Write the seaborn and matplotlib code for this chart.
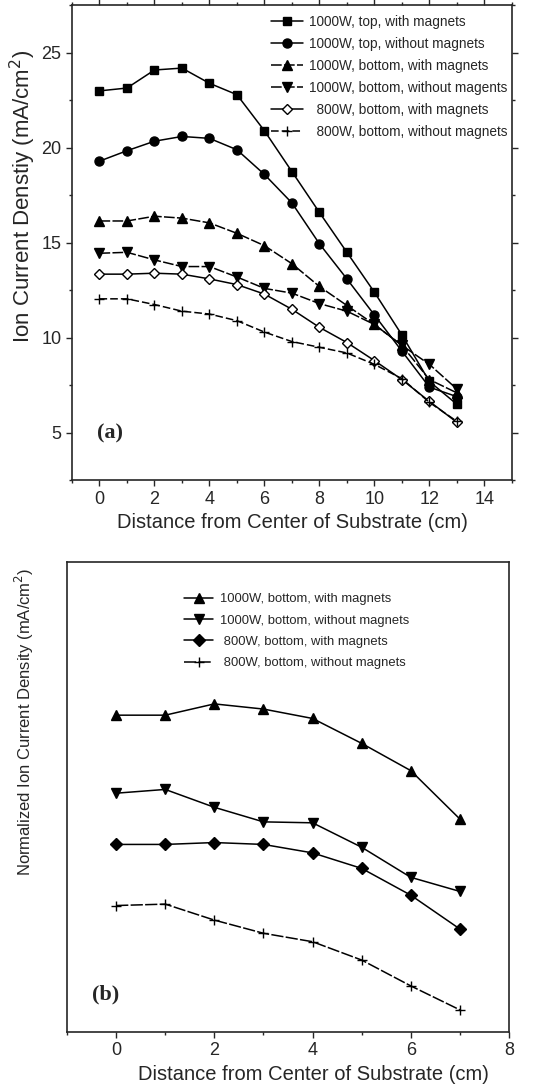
import matplotlib
matplotlib.use("Agg")
import matplotlib.pyplot as plt
import seaborn as sns
import pandas as pd
from matplotlib.ticker import MultipleLocator

# panel (a) data
distA = [0, 1, 2, 3, 4, 5, 6, 7, 8, 9, 10, 11, 12, 13]
topMag = [23.0, 23.15, 24.1, 24.2, 23.4, 22.8, 20.9, 18.75, 16.6, 14.5, 12.4, 10.15, 7.7, 6.5]
topNoMag = [19.3, 19.85, 20.35, 20.6, 20.5, 19.9, 18.6, 17.1, 14.95, 13.1, 11.2, 9.3, 7.4, 6.9]
botMag = [16.15, 16.15, 16.4, 16.3, 16.05, 15.5, 14.85, 13.9, 12.7, 11.7, 10.7, 9.6, 7.8, 7.1]
botNoMag = [14.45, 14.5, 14.1, 13.75, 13.75, 13.2, 12.6, 12.35, 11.8, 11.4, 10.7, 9.6, 8.6, 7.3]
w800Mag = [13.35, 13.35, 13.4, 13.35, 13.1, 12.8, 12.3, 11.5, 10.55, 9.75, 8.8, 7.8, 6.65, 5.55]
w800NoMag = [12.05, 12.05, 11.75, 11.4, 11.25, 10.9, 10.3, 9.8, 9.5, 9.2, 8.6, 7.85, 6.6, 5.6]

labelsA = ["1000W, top, with magnets", "1000W, top, without magnets",
           "1000W, bottom, with magnets", "1000W, bottom, without magents",
           "  800W, bottom, with magnets", "  800W, bottom, without magnets"]

# panel (b) data (normalized, arbitrary units)
distB = [0, 1, 2, 3, 4, 5, 6, 7]
nBotMag = [0.674, 0.674, 0.698, 0.687, 0.667, 0.614, 0.556, 0.453]
nBotNoMag = [0.508, 0.516, 0.478, 0.447, 0.445, 0.393, 0.329, 0.299]
n800Mag = [0.399, 0.399, 0.403, 0.399, 0.381, 0.348, 0.291, 0.219]
n800NoMag = [0.269, 0.272, 0.238, 0.210, 0.192, 0.153, 0.098, 0.047]

labelsB = ["1000W, bottom, with magnets", "1000W, bottom, without magnets",
           " 800W, bottom, with magnets", " 800W, bottom, without magnets"]

sns.set_style("ticks")
plt.rcParams["font.family"] = ["Liberation Sans", "DejaVu Sans"]
plt.rcParams["axes.linewidth"] = 1.2

fig = plt.figure(figsize=(5.43, 10.84), dpi=100)
axA = fig.add_axes([0.1326, 0.557, 0.810, 0.438])
axB = fig.add_axes([0.1234, 0.048, 0.814, 0.4336])

# ---- panel (a)
seriesA = [topMag, topNoMag, botMag, botNoMag, w800Mag, w800NoMag]
markersA = ["s", "o", "^", "v", "D", "+"]
sizesA = [6, 6.5, 7, 7, 5.5, 7]
dashesA = [(None, None), (None, None), (7, 1.5), (7, 1.5), (None, None), (5, 2)]
fillsA = ["black", "black", "black", "black", "white", "black"]

for vals, lab, mk, ms, ds, fc in zip(seriesA, labelsA, markersA, sizesA, dashesA, fillsA):
    df = pd.DataFrame({"x": distA, "y": vals})
    kw = {}
    if ds[0] is not None:
        kw["dashes"] = ds
    sns.lineplot(data=df, x="x", y="y", ax=axA, color="black", marker=mk,
                 markersize=ms, markerfacecolor=fc, markeredgecolor="black",
                 markeredgewidth=1.0, linewidth=1.1, label=lab, **kw)

axA.set_xlim(-1, 15)
axA.set_ylim(2.5, 27.5)
axA.xaxis.set_major_locator(MultipleLocator(2))
axA.xaxis.set_minor_locator(MultipleLocator(1))
axA.yaxis.set_major_locator(MultipleLocator(5))
axA.yaxis.set_minor_locator(MultipleLocator(2.5))
axA.tick_params(which="both", direction="out", top=True, right=True,
                labelsize=13, width=1.0)
axA.tick_params(which="major", length=4)
axA.tick_params(which="minor", length=2.5)
axA.set_xlabel("Distance from Center of Substrate (cm)", fontsize=14.5)
axA.xaxis.set_label_coords(0.502, -0.069)
axA.set_ylabel("Ion Current Denstiy (mA/cm$^2$)", fontsize=16)
axA.yaxis.set_label_coords(-0.078, 0.598)
axA.legend(loc="upper left", bbox_to_anchor=(0.43, 1.0), frameon=False,
           fontsize=9.8, handlelength=2.35, handletextpad=0.45,
           labelspacing=0.59, borderpad=0.2)
axA.text(0.057, 0.099, "(a)", transform=axA.transAxes, fontsize=16,
         fontweight="bold", family="Liberation Serif", va="center")

# ---- panel (b)
seriesB = [nBotMag, nBotNoMag, n800Mag, n800NoMag]
markersB = ["^", "v", "D", "+"]
sizesB = [7.5, 7.5, 6, 7.5]
dashesB = [(None, None), (None, None), (None, None), (8, 1.5)]

for vals, lab, mk, ms, ds in zip(seriesB, labelsB, markersB, sizesB, dashesB):
    df = pd.DataFrame({"x": distB, "y": vals})
    kw = {}
    if ds[0] is not None:
        kw["dashes"] = ds
    sns.lineplot(data=df, x="x", y="y", ax=axB, color="black", marker=mk,
                 markersize=ms, markerfacecolor="black", markeredgecolor="black",
                 markeredgewidth=1.0, linewidth=1.1, label=lab, **kw)

axB.set_xlim(-1, 8)
axB.set_ylim(0, 1)
axB.xaxis.set_major_locator(MultipleLocator(2))
axB.xaxis.set_minor_locator(MultipleLocator(1))
axB.set_yticks([])
axB.tick_params(which="both", direction="out", labelsize=13, width=1.0)
axB.tick_params(which="major", length=4)
axB.tick_params(which="minor", length=2.5)
axB.set_xlabel("Distance from Center of Substrate (cm)", fontsize=14.5)
axB.xaxis.set_label_coords(0.557, -0.070)
axB.set_ylabel("Normalized Ion Current Density (mA/cm$^2$)", fontsize=12)
axB.yaxis.set_label_coords(-0.07, 0.66)
axB.legend(loc="upper left", bbox_to_anchor=(0.245, 0.953), frameon=False,
           fontsize=9.4, handlelength=2.2, handletextpad=0.5,
           labelspacing=0.7, borderpad=0.2)
axB.text(0.057, 0.079, "(b)", transform=axB.transAxes, fontsize=16,
         fontweight="bold", family="Liberation Serif", va="center")

fig.savefig("out.png", dpi=100)
